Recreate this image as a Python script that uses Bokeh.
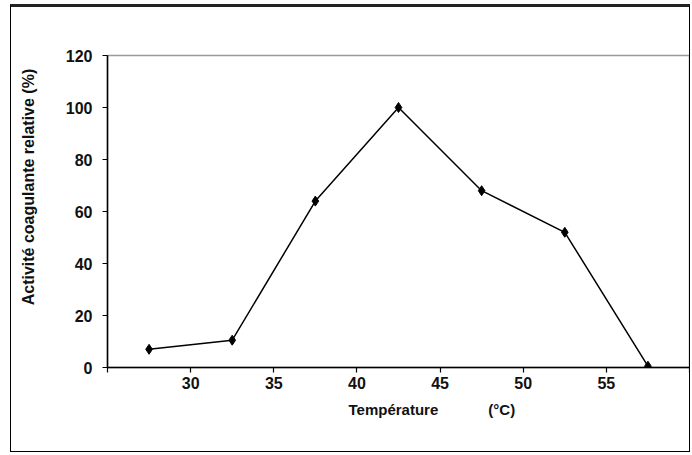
from bokeh.plotting import figure
from bokeh.models import Range1d, FixedTicker
from bokeh.embed import file_html
from bokeh.resources import INLINE

temperature = [27.5, 32.5, 37.5, 42.5, 47.5, 52.5, 57.5]
activite = [7, 10.5, 64, 100, 68, 52, 0.5]
x_ticks = [25, 30, 35, 40, 45, 50, 55, 60]
y_ticks = [0, 20, 40, 60, 80, 100, 120]

NB = "\u00a0"

p = figure(width=680, height=448, output_backend="svg", toolbar_location=None,
           x_range=Range1d(25, 60), y_range=Range1d(0, 120),
           min_border_left=96, min_border_right=2, min_border_top=48, min_border_bottom=88)
p.styles = {"border": "1px solid #000", "border-top": "3px solid #222",
            "box-sizing": "border-box", "margin-left": "10px", "margin-top": "4px"}

p.xgrid.visible = False
p.ygrid.visible = False
p.outline_line_color = "#9a9a9a"
p.outline_line_width = 1.5

p.line(temperature, activite, line_color="black", line_width=1.5)
p.scatter(temperature, activite, marker="diamond", size=10, color="black")

font = "Liberation Sans"
p.xaxis.ticker = FixedTicker(ticks=x_ticks)
p.xaxis.major_label_overrides = {25: "", 60: ""}
p.yaxis.ticker = FixedTicker(ticks=y_ticks)
for ax in (p.xaxis[0], p.yaxis[0]):
    ax.axis_line_color = "black"
    ax.axis_line_width = 1.5
    ax.major_tick_line_color = "black"
    ax.major_tick_line_width = 1.2
    ax.major_tick_out = 5
    ax.major_tick_in = 0
    ax.minor_tick_line_color = None
    ax.major_label_text_font = font
    ax.major_label_text_font_style = "bold"
    ax.major_label_text_font_size = "16px"
    ax.major_label_text_color = "#111"
    ax.axis_label_text_font = font
    ax.axis_label_text_font_style = "bold"
    ax.axis_label_text_color = "#111"

p.xaxis.major_label_standoff = 4
p.yaxis.major_label_standoff = 10

p.xaxis.axis_label = NB * 16 + "Température" + NB * 12 + "(°C)"
p.xaxis.axis_label_text_font_size = "15px"
p.xaxis.axis_label_standoff = 9

p.yaxis.axis_label = NB * 11 + "Activité coagulante relative (%)"
p.yaxis.axis_label_text_font_size = "16px"
p.yaxis.axis_label_standoff = 26

open("out.html", "w").write(file_html(p, INLINE))
